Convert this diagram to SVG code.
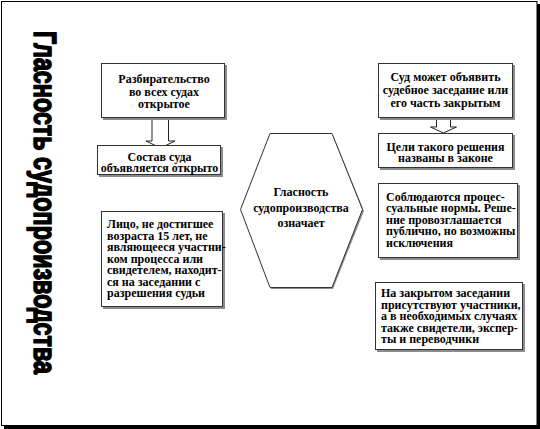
<svg xmlns="http://www.w3.org/2000/svg" width="540" height="429" viewBox="0 0 540 429">
<style>
.sh{fill:#8c8c8c;}
.bx{fill:#fff;stroke:#333;stroke-width:1;}
.t{font-family:"Liberation Serif","Times New Roman",serif;font-size:12px;font-weight:bold;fill:#000;}
.c{text-anchor:middle;}
.ar{fill:#fff;stroke:#222;stroke-width:1;}
</style>
<rect x="4" y="4" width="536" height="425" fill="#000"/>
<rect x="1.5" y="1.5" width="535.5" height="424" fill="#fff" stroke="#000" stroke-width="1"/>
<g id="title">
<text transform="translate(33.5,31) rotate(90)" x="0" y="0" font-family="'Liberation Sans',Arial,sans-serif" font-size="32" font-weight="bold" stroke="#000" stroke-width="1.6" stroke-linejoin="round" textLength="343" lengthAdjust="spacingAndGlyphs">Гласность судопроизводства</text>
</g>
<g id="connectors">
<path class="ar" d="M152,118 V141 H146 L160.5,148 L175,141 H168.5 V118 Z"/>
<path class="ar" d="M436.5,118 V127 H430.5 L443.5,133 L456.5,127 H450.5 V118 Z"/>
</g>
<g id="n1">
<rect class="sh" x="103" y="65" width="124" height="55"/>
<rect class="bx" x="101.5" y="63.5" width="123" height="54"/>
<text class="t c" x="164" y="83">Разбирательство</text>
<text class="t c" x="164" y="96">во всех судах</text>
<text class="t c" x="164" y="108">открытое</text>
</g>
<g id="n2">
<rect class="sh" x="99" y="147" width="124" height="30"/>
<rect class="bx" x="97.5" y="145.5" width="123" height="29"/>
<text class="t c" x="159.5" y="161">Состав суда</text>
<text class="t c" x="159.5" y="172">объявляется открыто</text>
</g>
<g id="n3">
<rect class="sh" x="103" y="213" width="122" height="96"/>
<rect class="bx" x="101.5" y="211.5" width="121" height="95"/>
<text class="t" x="107" y="228">Лицо, не достигшее</text>
<text class="t" x="107" y="239.5">возраста 15 лет, не</text>
<text class="t" x="107" y="251">являющееся участни-</text>
<text class="t" x="107" y="262.5">ком процесса или</text>
<text class="t" x="107" y="274">свидетелем, находит-</text>
<text class="t" x="107" y="285.5">ся на заседании с</text>
<text class="t" x="107" y="297">разрешения судьи</text>
</g>
<g id="hex">
<polygon points="271,135 333,135 364,211 333,289 271,289 242,211" fill="#8c8c8c"/>
<polygon points="270,133.5 332,133.5 362.5,209.5 332,287.5 270,287.5 240.5,209.5" fill="#fff" stroke="#333" stroke-width="1"/>
<text class="t c" x="301" y="196">Гласность</text>
<text class="t c" x="301" y="212">судопроизводства</text>
<text class="t c" x="301" y="227">означает</text>
</g>
<g id="n4">
<rect class="sh" x="380" y="65" width="135" height="55"/>
<rect class="bx" x="378.5" y="63.5" width="134" height="54"/>
<text class="t c" x="445.5" y="81">Суд может объявить</text>
<text class="t c" x="445.5" y="94">судебное заседание или</text>
<text class="t c" x="445.5" y="107">его часть закрытым</text>
</g>
<g id="n5">
<rect class="sh" x="380" y="135" width="135" height="35"/>
<rect class="bx" x="378.5" y="133.5" width="134" height="34"/>
<text class="t c" x="445.5" y="150.5">Цели такого решения</text>
<text class="t c" x="445.5" y="162">названы в законе</text>
</g>
<g id="n6">
<rect class="sh" x="380" y="185" width="140" height="75"/>
<rect class="bx" x="378.5" y="183.5" width="139" height="74"/>
<text class="t" x="386" y="200.5">Соблюдаются процес-</text>
<text class="t" x="386" y="212">суальные нормы. Реше-</text>
<text class="t" x="386" y="223.5">ние провозглашается</text>
<text class="t" x="386" y="235">публично, но возможны</text>
<text class="t" x="386" y="246.5">исключения</text>
</g>
<g id="n7">
<rect class="sh" x="377" y="284" width="148" height="68"/>
<rect class="bx" x="375.5" y="282.5" width="147" height="67"/>
<text class="t" x="381" y="297">На закрытом заседании</text>
<text class="t" x="381" y="308.5">присутствуют участники,</text>
<text class="t" x="381" y="320">а в необходимых случаях</text>
<text class="t" x="381" y="331.5">также свидетели, экспер-</text>
<text class="t" x="381" y="343">ты и переводчики</text>
</g>
</svg>
